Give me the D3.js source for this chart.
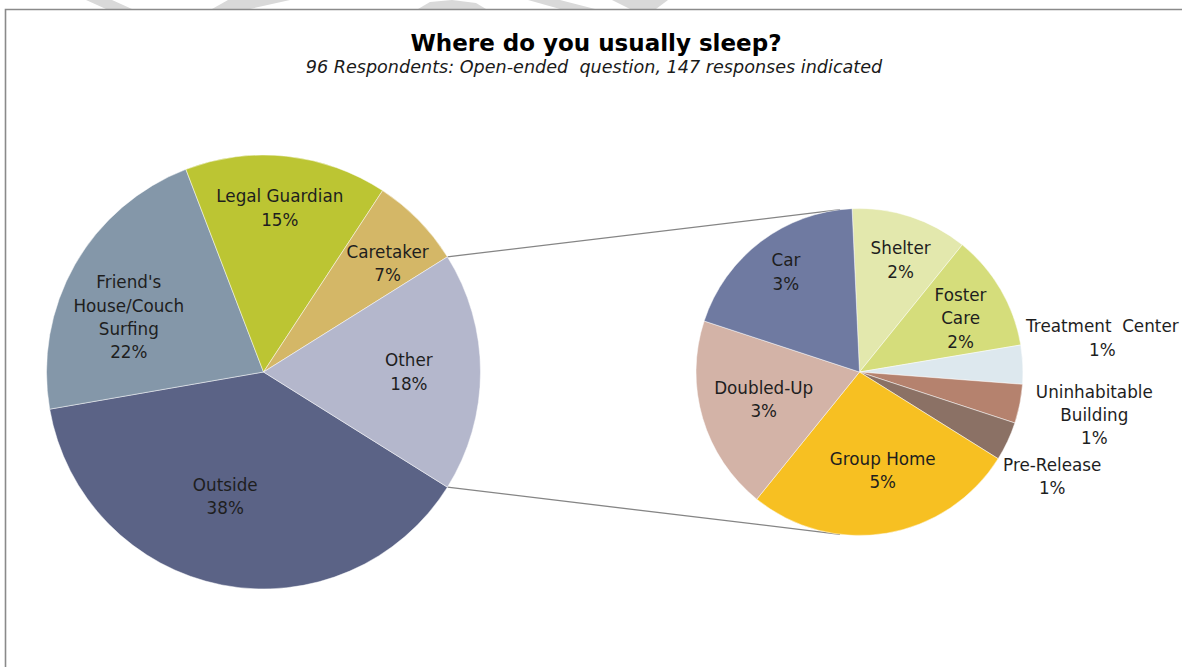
<!DOCTYPE html>
<html>
<head>
<meta charset="utf-8">
<script src="https://cdn.jsdelivr.net/npm/d3@7"></script>
<style>
  html, body { margin: 0; padding: 0; background: #ffffff; }
  svg { display: block; }
  text { font-family: "DejaVu Sans", sans-serif; fill: #1e1e1e; }
</style>
</head>
<body>
<svg id="chart" width="1182" height="667"></svg>
<script>
// ---- Survey data: counts of responses per place ----
const mainCategories = ["Outside", "Friend's\nHouse/Couch\nSurfing", "Legal Guardian", "Caretaker", "Other"];
const mainCounts = [56, 32, 22, 10, 26];

// Break-down of the "Other" slice
const detailCategories = ["Shelter", "Foster\nCare", "Treatment  Center", "Uninhabitable\nBuilding",
                          "Pre-Release", "Group Home", "Doubled-Up", "Car"];
const detailCounts = [3, 3, 1, 1, 1, 7, 5, 5];

// ---- Styling ----
const mainColors = ["#5b6386", "#8497a9", "#bcc533", "#d4b767", "#b4b7cc"];
const detailColors = ["#e3e8ad", "#d5dd7b", "#dde8ee", "#b5826e", "#8b7165", "#f7c022", "#d3b3a7", "#6f7aa1"];

// label placement: [angle nudge in degrees, distance as fraction of radius]
const mainLabelLayout = [[6.0, 0.60], [-7.5, 0.67], [-0.5, 0.76], [3.2, 0.76], [0, 0.67]];
const detailLabelLayout = [[2, 0.73], [2.3, 0.70], [-5.4, 1.50], [-0.9, 1.46], [3.3, 1.34],
                           [-3.7, 0.62], [0.3, 0.61], [0.9, 0.76]];

const svg = d3.select("#chart");

// light watermark fragments above the chart frame
const wm = svg.append("g").attr("fill", "#d9d9d9");
[
  [[86, 0], [112, 0], [132, 9], [106, 9]],
  [[228, 0], [290, 0], [250, 9], [212, 9]],
  [[418, 9], [430, 2], [452, 0], [476, 3], [486, 9]],
  [[528, 0], [560, 0], [595, 9], [560, 9]],
  [[612, 0], [668, 0], [656, 9], [630, 9]]
].forEach(p => wm.append("path").attr("d", d3.line()(p) + "Z"));

// chart frame
svg.append("path")
  .attr("d", "M5.5,667 L5.5,9.5 L1182,9.5")
  .attr("fill", "none").attr("stroke", "#8a8a8a").attr("stroke-width", 1.6);

// titles
svg.append("text")
  .attr("x", 596).attr("y", 51)
  .attr("text-anchor", "middle")
  .style("font-size", "23px").style("font-weight", "bold").style("fill", "#000")
  .text("Where do you usually sleep?");
svg.append("text")
  .attr("x", 594).attr("y", 73)
  .attr("text-anchor", "middle")
  .style("font-size", "17.6px").style("font-style", "italic").style("fill", "#1a1a1a")
  .attr("xml:space", "preserve")
  .text("96 Respondents: Open-ended  question, 147 responses indicated");

// ---- geometry ----
const mainC = [263.5, 372], mainR = 217;
const detC = [859.5, 372], detR = 163.5;
const deg = Math.PI / 180;

const mainTotal = d3.sum(mainCounts);
const otherIndex = mainCategories.indexOf("Other");
const otherSweep = mainCounts[otherIndex] / mainTotal * 2 * Math.PI;
// "Other" is centred on the right-hand side, facing the detail pie
const mainStart = Math.PI / 2 + otherSweep / 2;
const detailStart = -2.6 * deg;

const mainData = mainCategories.map((c, i) => ({ name: c, value: mainCounts[i], color: mainColors[i], layout: mainLabelLayout[i] }));
const detailData = detailCategories.map((c, i) => ({ name: c, value: detailCounts[i], color: detailColors[i], layout: detailLabelLayout[i] }));

const mainArcs = d3.pie().sort(null).value(d => d.value)
  .startAngle(mainStart).endAngle(mainStart + 2 * Math.PI)(mainData);
const detailArcs = d3.pie().sort(null).value(d => d.value)
  .startAngle(detailStart).endAngle(detailStart + 2 * Math.PI)(detailData);

const polar = (c, a, r) => [c[0] + r * Math.sin(a), c[1] - r * Math.cos(a)];

// connector lines: from the edges of "Other" tangent to the detail pie
const otherArc = mainArcs[otherIndex];
function tangentPoint(p, sign) {
  const dx = p[0] - detC[0], dy = p[1] - detC[1];
  const d = Math.hypot(dx, dy);
  const phi = Math.atan2(dy, dx);
  const alpha = Math.acos(detR / d);
  const t = phi + sign * alpha;
  return [detC[0] + detR * Math.cos(t), detC[1] + detR * Math.sin(t)];
}
const pTop = polar(mainC, otherArc.startAngle, mainR);
const pBot = polar(mainC, otherArc.endAngle, mainR);
const connectors = [[pTop, tangentPoint(pTop, 1)], [pBot, tangentPoint(pBot, -1)]];
svg.append("g").selectAll("line").data(connectors).join("line")
  .attr("x1", d => d[0][0]).attr("y1", d => d[0][1])
  .attr("x2", d => d[1][0]).attr("y2", d => d[1][1])
  .attr("stroke", "#858585").attr("stroke-width", 1.3);

function drawPie(arcs, center, radius) {
  const arc = d3.arc().innerRadius(0).outerRadius(radius);
  const g = svg.append("g").attr("transform", `translate(${center[0]},${center[1]})`);
  g.selectAll("path").data(arcs).join("path")
    .attr("d", arc)
    .attr("fill", d => d.data.color)
    .attr("stroke", "#ffffff").attr("stroke-width", 0.8).attr("stroke-opacity", 0.6);

  const lh = 23.3;
  arcs.forEach(a => {
    const mid = (a.startAngle + a.endAngle) / 2 + a.data.layout[0] * deg;
    const pos = polar([0, 0], mid, a.data.layout[1] * radius);
    const pct = Math.round(a.data.value / mainTotal * 100) + "%";
    const lines = a.data.name.split("\n").concat([pct]);
    const t = g.append("text")
      .attr("text-anchor", "middle")
      .attr("xml:space", "preserve")
      .style("font-size", "16.8px");
    lines.forEach((ln, i) => {
      t.append("tspan")
        .attr("x", pos[0])
        .attr("y", pos[1] + (i - (lines.length - 1) / 2) * lh)
        .attr("dy", "0.36em")
        .text(ln);
    });
  });
}

drawPie(mainArcs, mainC, mainR);
drawPie(detailArcs, detC, detR);
</script>
</body>
</html>
